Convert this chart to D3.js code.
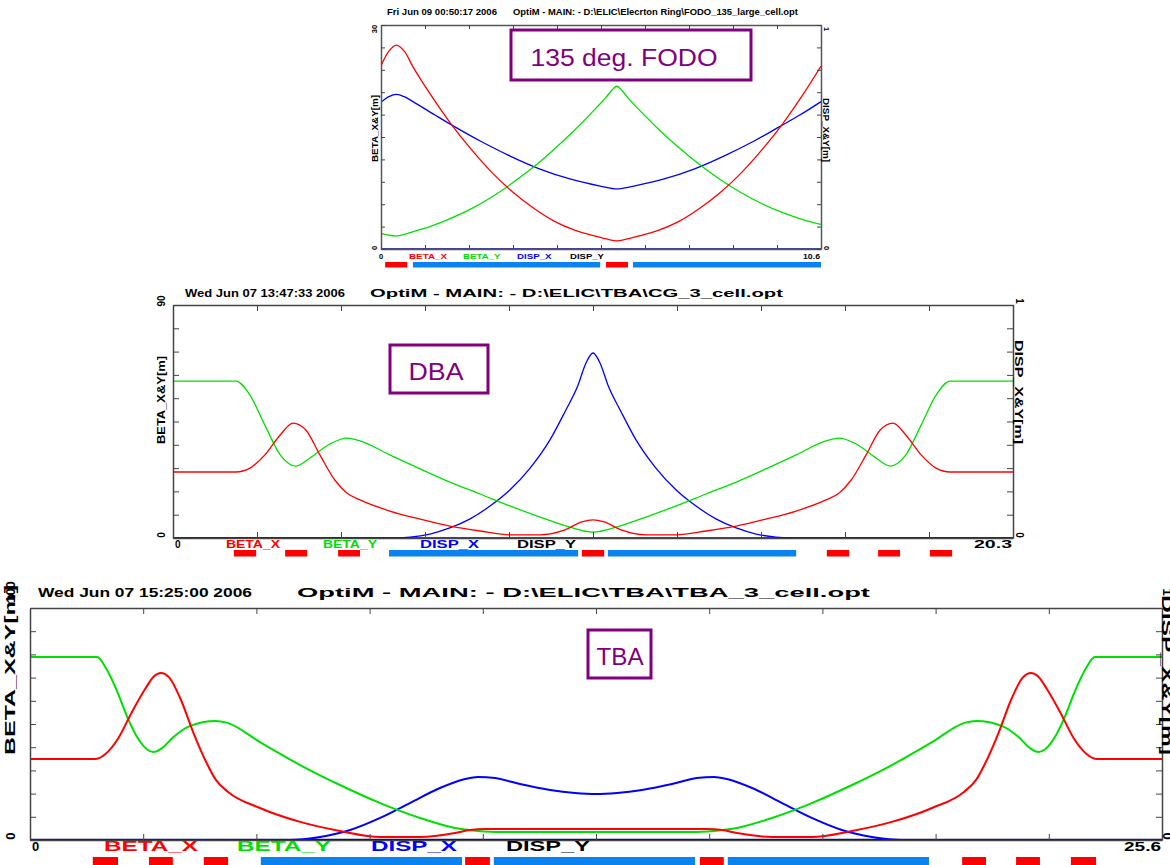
<!DOCTYPE html>
<html><head><meta charset="utf-8">
<script src="https://cdn.jsdelivr.net/npm/d3@7"></script>
<style>body{margin:0;background:#fff}svg{display:block}</style>
</head><body>
<svg id="c" width="1170" height="865"></svg>
<script>
// ================= DATA =================
const seriesNames = ["BETA_X", "BETA_Y", "DISP_X", "DISP_Y"];
const leftTitle = "BETA_X&Y[m]";
const rightTitle = "DISP_X&Y[m]";

// ---- FODO (top) ----
const fodoHeader = ["Fri Jun 09 00:50:17 2006", "OptiM - MAIN: - D:\\ELIC\\Elecrton Ring\\FODO_135_large_cell.opt"];
const fodoLength = 10.6;
const fodoBetaMax = 30;
const fodoXLabels = ["0", "10.6"];
const fodoYLabels = ["0", "30"];
const fodoDLabels = ["0", "1"];
const fodoBox = "135 deg. FODO";
const fodoBetaX = [[0,24.5],[0.19,26.5],[0.37,27.3],[0.56,26.5],[0.76,24.5],[1.18,20.8],[1.68,16.8],[2.18,13.3],[2.68,10.2],[3.18,7.6],[3.68,5.45],[4.18,3.7],[4.68,2.5],[5.18,1.7],[5.43,1.35],[5.68,1.1],[5.93,1.35],[6.18,1.7],[6.68,2.5],[7.18,3.7],[7.68,5.45],[8.18,7.6],[8.68,10.2],[9.18,13.3],[9.68,16.8],[10.18,20.8],[10.6,24.5]];
const fodoBetaY = [[0,2.1],[0.19,1.85],[0.37,1.75],[0.56,1.95],[0.76,2.3],[1.18,3.0],[1.68,4.1],[2.18,5.4],[2.68,7.0],[3.18,8.9],[3.68,11.0],[4.18,13.4],[4.68,16.0],[5.18,18.87],[5.42,20.3],[5.55,21.2],[5.68,21.8],[5.81,21.2],[5.94,20.3],[6.18,18.87],[6.68,16.08],[7.18,13.55],[7.68,11.28],[8.18,9.28],[8.68,7.54],[9.18,6.06],[9.68,4.86],[10.18,3.9],[10.6,3.3]];
const fodoDispX = [[0,0.655],[0.19,0.68],[0.37,0.69],[0.56,0.68],[0.77,0.658],[1.30,0.598],[1.78,0.545],[2.39,0.482],[3.11,0.415],[3.83,0.357],[4.55,0.313],[5.28,0.281],[5.69,0.268],[6.09,0.281],[6.82,0.313],[7.54,0.357],[8.26,0.415],[8.99,0.482],[9.59,0.545],[10.09,0.598],[10.6,0.658]];
const fodoDispY = [[0,0],[10.6,0]];
const fodoQuads = [[0.1,0.63],[5.42,5.95]];
const fodoBends = [[0.77,5.28],[6.07,10.6]];

// ---- DBA (middle) ----
const dbaHeader = ["Wed Jun 07 13:47:33 2006", "OptiM - MAIN: - D:\\ELIC\\TBA\\CG_3_cell.opt"];
const dbaLength = 20.3;
const dbaBetaMax = 90;
const dbaXLabels = ["0", "20.3"];
const dbaYLabels = ["0", "90"];
const dbaDLabels = ["0", "1"];
const dbaBox = "DBA";
const dbaBetaX = [[0,25.5],[1.52,25.5],[1.86,27.0],[2.22,32.1],[2.59,39.8],[2.90,44.4],[3.21,41.7],[3.55,32.1],[3.91,22.4],[4.20,17.4],[4.52,14.7],[5.24,10.4],[5.97,7.3],[6.69,4.6],[7.42,2.7],[8.14,1.2],[8.87,1.2],[9.47,3.1],[9.88,6.2],[10.15,7.0],[10.42,6.2],[10.83,3.1],[11.43,1.2],[12.16,1.2],[12.88,2.7],[13.61,4.6],[14.33,7.3],[15.06,10.4],[15.78,14.7],[16.10,17.4],[16.39,22.4],[16.75,32.1],[17.09,41.7],[17.40,44.4],[17.71,39.8],[18.08,32.1],[18.44,27.0],[18.78,25.5],[20.3,25.5]];
const dbaBetaY = [[0,60.6],[1.52,60.6],[1.86,55.2],[2.22,43.6],[2.59,32.1],[2.97,27.8],[3.31,30.9],[3.79,36.3],[4.20,38.6],[4.52,37.5],[5.24,32.1],[5.97,26.7],[6.69,21.6],[7.42,17.0],[8.14,12.4],[8.87,8.1],[9.59,4.2],[10.15,2.3],[10.71,4.2],[11.43,8.1],[12.16,12.4],[12.88,17.0],[13.61,21.6],[14.33,26.7],[15.06,32.1],[15.78,37.5],[16.10,38.6],[16.51,36.3],[16.99,30.9],[17.33,27.8],[17.71,32.1],[18.08,43.6],[18.44,55.2],[18.78,60.6],[20.3,60.6]];
const dbaDispX = [[0,0],[5.22,0],[5.73,0.004],[6.21,0.017],[6.69,0.043],[7.18,0.082],[7.66,0.137],[8.14,0.206],[8.63,0.300],[9.11,0.421],[9.47,0.541],[9.79,0.657],[9.98,0.751],[10.15,0.794],[10.32,0.751],[10.51,0.657],[10.83,0.541],[11.19,0.421],[11.67,0.300],[12.16,0.206],[12.64,0.137],[13.12,0.082],[13.61,0.043],[14.09,0.017],[14.57,0.004],[15.08,0],[20.3,0]];
const dbaDispY = [[0,0],[20.3,0]];
const dbaQuads = [[1.47,2.01],[2.71,3.24],[3.99,4.52],[9.88,10.42],[15.80,16.34],[17.04,17.57],[18.29,18.83]];
const dbaBends = [[5.22,9.79],[10.51,15.06]];

// ---- TBA (bottom) ----
const tbaHeader = ["Wed Jun 07 15:25:00 2006", "OptiM - MAIN: - D:\\ELIC\\TBA\\TBA_3_cell.opt"];
const tbaLength = 25.6;
const tbaBetaMax = 100;
const tbaXLabels = ["0", "25.6"];
const tbaYLabels = ["0", "100"];
const tbaDLabels = ["0", "1"];
const tbaBox = "TBA";
const tbaBetaX = [[0,34.9],[1.47,34.9],[1.7,37.0],[2.0,44.0],[2.3,55.0],[2.6,65.0],[2.8,70.5],[2.96,72.0],[3.15,70.0],[3.4,61.0],[3.7,46.0],[4.0,33.0],[4.2,26.0],[4.48,20.7],[5.20,13.8],[6.11,7.8],[7.01,3.9],[7.92,1.3],[8.82,1.3],[9.61,3.0],[9.95,4.3],[10.29,4.7],[12.8,4.7],[15.31,4.7],[15.65,4.3],[15.99,3.0],[16.78,1.3],[17.68,1.3],[18.59,3.9],[19.49,7.8],[20.40,13.8],[21.12,20.7],[21.4,26.0],[21.6,33.0],[21.9,46.0],[22.2,61.0],[22.45,70.0],[22.64,72.0],[22.8,70.5],[23.0,65.0],[23.3,55.0],[23.6,44.0],[23.9,37.0],[24.13,34.9],[25.6,34.9]];
const tbaBetaY = [[0,78.9],[1.52,78.9],[1.72,74.0],[1.95,65.0],[2.2,53.0],[2.45,43.5],[2.65,39.0],[2.79,37.9],[2.98,39.5],[3.25,44.5],[3.6,49.0],[4.2,51.3],[4.45,50.6],[5.20,42.2],[6.11,32.3],[7.01,23.7],[7.92,15.9],[8.82,9.5],[9.61,5.2],[10.13,3.9],[10.63,3.4],[12.8,3.4],[14.97,3.4],[15.47,3.9],[15.99,5.2],[16.78,9.5],[17.68,15.9],[18.59,23.7],[19.49,32.3],[20.40,42.2],[21.15,50.6],[21.4,51.3],[22.0,49.0],[22.35,44.5],[22.62,39.5],[22.81,37.9],[22.95,39.0],[23.15,43.5],[23.4,53.0],[23.65,65.0],[23.88,74.0],[24.08,78.9],[25.6,78.9]];
const tbaDispX = [[0,0],[5.88,0],[6.56,0.013],[7.24,0.043],[7.92,0.095],[8.59,0.159],[9.27,0.224],[9.84,0.263],[10.13,0.272],[10.52,0.267],[11.08,0.241],[11.76,0.216],[12.32,0.203],[12.8,0.198],[13.28,0.203],[13.84,0.216],[14.52,0.241],[15.08,0.267],[15.47,0.272],[15.76,0.263],[16.33,0.224],[17.01,0.159],[17.68,0.095],[18.36,0.043],[19.04,0.013],[19.72,0],[25.6,0]];
const tbaDispY = [[0,0],[25.6,0]];
const tbaQuads = [[1.42,1.99],[2.69,3.23],[3.93,4.48],[9.84,10.40],[15.15,15.69],[21.08,21.62],[22.30,22.84],[23.54,24.11]];
const tbaBends = [[5.22,9.77],[10.49,15.04],[15.78,20.33]];

// ================= STYLE / LAYOUT =================
const COL = { bx: "#ff0000", by: "#00e000", dx: "#0000ff", dy: "#000080", legend: ["#ff0000", "#00dd00", "#0000ff", "#000000"], quad: "#ff0000", bend: "#0a82f0", box: "#800080" };
const FONT = "'Liberation Sans', Arial, Helvetica, sans-serif";
const svg = d3.select("#c");

function txt(g, s, x, y, o) {
  const t = g.append("text").attr("x", x).attr("y", y).text(s)
    .attr("font-family", FONT).attr("font-weight", o.w || "bold")
    .attr("font-size", o.size).attr("fill", o.fill || "#000")
    .attr("text-anchor", o.anchor || "start");
  if (o.len) t.attr("textLength", o.len).attr("lengthAdjust", "spacingAndGlyphs");
  if (o.rot) t.attr("transform", `rotate(${o.rot},${x},${y})`).attr("dominant-baseline", "central");
  return t;
}

function drawPanel(id, P, D) {
  const g = svg.append("g");
  const x = d3.scaleLinear().domain([0, D.L]).range([P.l, P.r]);
  const yb = d3.scaleLinear().domain([0, D.bmax]).range([P.b, P.t]);
  const yd = d3.scaleLinear().domain([0, 1]).range([P.b, P.t]);
  const xt = d3.range(11).map(i => D.L * i / 10);
  const ytb = d3.range(11).map(i => D.bmax * i / 10);
  const ytd = d3.range(11).map(i => i / 10);

  P.head.forEach((h, i) => txt(g, D.header[i], h.x, h.y, { size: P.hs, len: h.len }));

  svg.append("clipPath").attr("id", id).append("rect")
    .attr("x", P.l).attr("y", P.t).attr("width", P.r - P.l).attr("height", P.b - P.t);

  const lb = d3.line().x(d => x(d[0])).y(d => yb(d[1])).curve(P.curve);
  const ld = d3.line().x(d => x(d[0])).y(d => yd(d[1])).curve(P.curve);
  const cg = g.append("g").attr("clip-path", `url(#${id})`);
  cg.append("path").attr("d", ld(D.dy)).attr("fill", "none").attr("stroke", COL.dy).attr("stroke-width", P.lw + 0.4);
  cg.append("path").attr("d", ld(D.dx)).attr("fill", "none").attr("stroke", COL.dx).attr("stroke-width", P.lw);
  cg.append("path").attr("d", lb(D.by)).attr("fill", "none").attr("stroke", COL.by).attr("stroke-width", P.lw);
  cg.append("path").attr("d", lb(D.bx)).attr("fill", "none").attr("stroke", COL.bx).attr("stroke-width", P.lw);

  const ax = (axis, tx, ty) => g.append("g").attr("transform", `translate(${tx},${ty})`).call(axis)
    .call(s => {
      s.select("path.domain").attr("stroke", P.frame).attr("stroke-width", P.fw);
      s.selectAll(".tick line").attr("stroke", "#444").attr("stroke-width", 1);
      s.selectAll(".tick text").remove();
    });
  ax(d3.axisTop(x).tickValues(xt).tickSizeInner(P.tk).tickSizeOuter(0), 0, P.b);
  ax(d3.axisBottom(x).tickValues(xt).tickSizeInner(P.tk).tickSizeOuter(0), 0, P.t);
  ax(d3.axisRight(yb).tickValues(ytb).tickSizeInner(P.tk).tickSizeOuter(0), P.l, 0);
  ax(d3.axisLeft(yd).tickValues(ytd).tickSizeInner(P.tk).tickSizeOuter(0), P.r, 0);

  txt(g, D.yl[0], P.ylx, yb(0) - P.yoff, { size: P.ls, anchor: "middle", rot: -90 });
  txt(g, D.yl[1], P.ylx, yb(D.bmax) + P.ytop, { size: P.ls, anchor: "middle", rot: -90 });
  txt(g, leftTitle, P.ytx, P.yty, { size: P.ts, anchor: "middle", rot: -90, len: P.ytl });
  txt(g, D.dl[0], P.rlx, yd(0) - P.yoff, { size: P.ls, anchor: "middle", rot: 90 });
  txt(g, D.dl[1], P.rlx, yd(1) + P.ytop, { size: P.ls, anchor: "middle", rot: 90 });
  txt(g, rightTitle, P.rtx, P.rty, { size: P.ts, anchor: "middle", rot: 90, len: P.rtl });

  txt(g, D.xl[0], x(0) + P.x0off, P.ly, { size: P.ls });
  txt(g, D.xl[1], x(D.L) - 1, P.ly, { size: P.ls, anchor: "end", len: P.xendLen });
  seriesNames.forEach((n, i) => txt(g, n, P.legX[i], P.ly, { size: P.legS, fill: COL.legend[i], len: P.legL[i] }));

  g.selectAll(null).data(D.bends).enter().append("rect")
    .attr("x", d => x(d[0])).attr("width", d => x(d[1]) - x(d[0]))
    .attr("y", P.barY).attr("height", P.barH).attr("fill", COL.bend);
  g.selectAll(null).data(D.quads).enter().append("rect")
    .attr("x", d => x(d[0])).attr("width", d => x(d[1]) - x(d[0]))
    .attr("y", P.barY).attr("height", P.barH).attr("fill", COL.quad);

  g.append("rect").attr("x", P.box.x).attr("y", P.box.y).attr("width", P.box.w).attr("height", P.box.h)
    .attr("fill", "#fff").attr("stroke", COL.box).attr("stroke-width", 3);
  txt(g, D.box, P.box.tx, P.box.ty, { size: P.box.fs, w: "normal", fill: COL.box, anchor: "middle", len: P.box.tl });
}

drawPanel("clipA", {
  l: 381, r: 821, t: 25, b: 249, tk: 4, frame: "#555", fw: 1.5, lw: 1.3, curve: d3.curveCatmullRom,
  head: [{ x: 387, y: 15, len: 110 }, { x: 513, y: 15, len: 285 }], hs: 8.5,
  ls: 7.5, yoff: 1, ytop: 4, ylx: 374, rlx: 826, ts: 8.5,
  ytx: 375, yty: 128.5, ytl: 67, rtx: 826, rty: 130, rtl: 64,
  ly: 259, x0off: -2, xendLen: 17, legS: 7.5, legX: [409, 463, 517, 570], legL: [38, 37.5, 34.5, 34],
  barY: 262, barH: 5.5,
  box: { x: 511, y: 30, w: 240, h: 50, tx: 624, ty: 66, fs: 23, tl: 187 }
}, { L: fodoLength, bmax: fodoBetaMax, header: fodoHeader, xl: fodoXLabels, yl: fodoYLabels, dl: fodoDLabels,
     bx: fodoBetaX, by: fodoBetaY, dx: fodoDispX, dy: fodoDispY, quads: fodoQuads, bends: fodoBends, box: fodoBox });

drawPanel("clipB", {
  l: 173, r: 1013, t: 305, b: 538, tk: 6, frame: "#444", fw: 1.5, lw: 1.3, curve: d3.curveMonotoneX,
  head: [{ x: 185, y: 297, len: 160 }, { x: 370, y: 297, len: 413 }], hs: 10.5,
  ls: 10, yoff: 3, ytop: -4, ylx: 161, rlx: 1019, ts: 11,
  ytx: 161, yty: 400, ytl: 88, rtx: 1019, rty: 392, rtl: 104,
  ly: 548, x0off: 2, xendLen: 38, legS: 11, legX: [226, 323, 420, 517], legL: [54, 54, 59, 59],
  barY: 550, barH: 6.5,
  box: { x: 390, y: 345, w: 98, h: 48, tx: 436, ty: 380, fs: 23, tl: 55 }
}, { L: dbaLength, bmax: dbaBetaMax, header: dbaHeader, xl: dbaXLabels, yl: dbaYLabels, dl: dbaDLabels,
     bx: dbaBetaX, by: dbaBetaY, dx: dbaDispX, dy: dbaDispY, quads: dbaQuads, bends: dbaBends, box: dbaBox });

drawPanel("clipC", {
  l: 30, r: 1162, t: 608, b: 840, tk: 6, frame: "#444", fw: 1.5, lw: 2, curve: d3.curveMonotoneX,
  head: [{ x: 38, y: 597, len: 214 }, { x: 297, y: 597, len: 573 }], hs: 13,
  ls: 13, yoff: 4, ytop: -16, ylx: 10, rlx: 1167, ts: 14,
  ytx: 10, yty: 670, ytl: 170, rtx: 1167, rty: 675, rtl: 160,
  ly: 851, x0off: 2, xendLen: 37, legS: 15, legX: [104, 237, 371, 506], legL: [94, 94, 86, 84],
  barY: 857, barH: 8,
  box: { x: 588, y: 630, w: 63, h: 48, tx: 620, ty: 665, fs: 23, tl: 47 }
}, { L: tbaLength, bmax: tbaBetaMax, header: tbaHeader, xl: tbaXLabels, yl: tbaYLabels, dl: tbaDLabels,
     bx: tbaBetaX, by: tbaBetaY, dx: tbaDispX, dy: tbaDispY, quads: tbaQuads, bends: tbaBends, box: tbaBox });
</script>
</body></html>
